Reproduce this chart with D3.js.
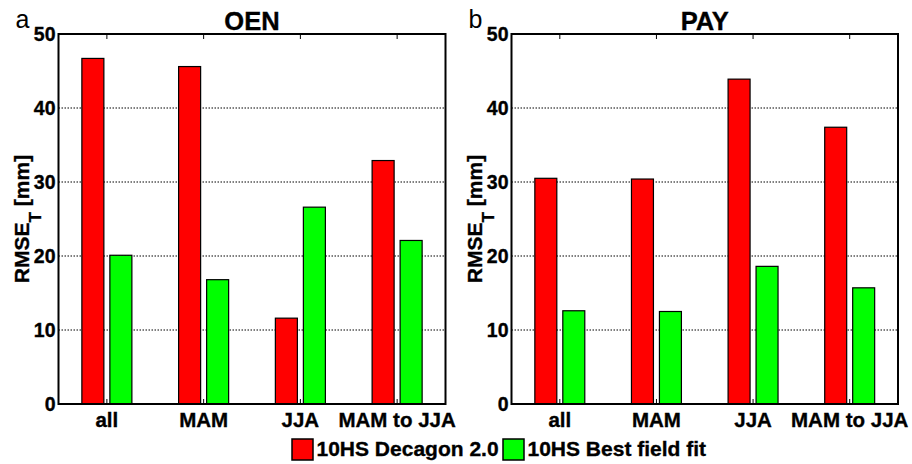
<!DOCTYPE html>
<html>
<head>
<meta charset="utf-8">
<script src="https://cdn.jsdelivr.net/npm/d3@7"></script>
<style>
  html, body { margin: 0; padding: 0; background: #fff; }
  svg { display: block; font-family: "Liberation Sans", Arial, sans-serif; }
  .bold { font-weight: bold; stroke: #000; stroke-width: 0.35px; }
</style>
</head>
<body>
<svg id="chart" width="912" height="464"></svg>
<script>
// categories / series
const categories = ['all', 'MAM', 'JJA', 'MAM to JJA'];
const seriesNames = ['10HS Decagon 2.0', '10HS Best field fit'];
const seriesColors = ['#ff0000', '#00ff00'];

// RMSE_T [mm] per panel
const oenDecagon = [46.7, 45.6, 11.6, 32.9];
const oenBestFit = [20.1, 16.8, 26.6, 22.1];
const payDecagon = [30.5, 30.4, 43.9, 37.4];
const payBestFit = [12.6, 12.5, 18.6, 15.7];

const yTicks = [0, 10, 20, 30, 40, 50];

const panels = [
  { letter: 'a', title: 'OEN', values: [oenDecagon, oenBestFit], left: 58.5, right: 445.5 },
  { letter: 'b', title: 'PAY', values: [payDecagon, payBestFit], left: 511.5, right: 898 }
];

const svg = d3.select('#chart');
const plotTop = 34, plotBottom = 404;

const y = d3.scaleLinear().domain([0, 50]).range([plotBottom, plotTop]);

panels.forEach((p) => {
  const g = svg.append('g');

  const x = d3.scaleBand().domain(categories).range([p.left, p.right]).padding(0);
  const groupW = x.bandwidth() * 0.517;
  const xs = d3.scaleBand().domain(d3.range(seriesNames.length))
    .range([-groupW / 2, groupW / 2]).paddingInner(0.2143).paddingOuter(0);

  // grid lines (dotted)
  g.append('g')
    .selectAll('line')
    .data(yTicks.filter((d) => d > 0 && d < 50))
    .enter()
    .append('line')
    .attr('x1', p.left).attr('x2', p.right)
    .attr('y1', (d) => y(d)).attr('y2', (d) => y(d))
    .attr('stroke', '#000')
    .attr('stroke-width', 1)
    .attr('stroke-dasharray', '1.5,1.5');

  // bars
  categories.forEach((c, ci) => {
    p.values.forEach((vals, si) => {
      g.append('rect')
        .attr('x', x(c) + x.bandwidth() / 2 + xs(si))
        .attr('y', y(vals[ci]))
        .attr('width', xs.bandwidth())
        .attr('height', y(0) - y(vals[ci]))
        .attr('fill', seriesColors[si])
        .attr('stroke', '#000')
        .attr('stroke-width', 1.2);
    });
  });

  // x ticks inside (top and bottom)
  categories.forEach((c) => {
    const cx = x(c) + x.bandwidth() / 2;
    g.append('line').attr('x1', cx).attr('x2', cx).attr('y1', plotTop).attr('y2', plotTop + 5)
      .attr('stroke', '#000').attr('stroke-width', 1);
    g.append('line').attr('x1', cx).attr('x2', cx).attr('y1', plotBottom).attr('y2', plotBottom - 5)
      .attr('stroke', '#000').attr('stroke-width', 1);
  });

  // box
  g.append('rect')
    .attr('x', p.left).attr('y', plotTop)
    .attr('width', p.right - p.left).attr('height', plotBottom - plotTop)
    .attr('fill', 'none').attr('stroke', '#000').attr('stroke-width', 2);

  // y tick labels
  g.append('g')
    .selectAll('text')
    .data(yTicks)
    .enter()
    .append('text')
    .attr('class', 'bold')
    .attr('x', p.left - 3)
    .attr('y', (d) => y(d) + 7)
    .attr('text-anchor', 'end')
    .style('font-size', '19.5px')
    .text((d) => d);

  // x tick labels
  g.append('g')
    .selectAll('text')
    .data(categories)
    .enter()
    .append('text')
    .attr('class', 'bold')
    .attr('x', (d) => x(d) + x.bandwidth() / 2)
    .attr('y', 427)
    .attr('text-anchor', 'middle')
    .style('font-size', '20.5px')
    .text((d) => d);

  // title
  g.append('text')
    .attr('class', 'bold')
    .attr('x', (p.left + p.right) / 2)
    .attr('y', 30)
    .attr('text-anchor', 'middle')
    .style('font-size', '25.5px')
    .text(p.title);

  // panel letter
  g.append('text')
    .attr('x', p.left - 43)
    .attr('y', 28)
    .style('font-size', '25px')
    .text(p.letter);

  // y label (centred by measuring, tspans with shift)
  const yl = g.append('text')
    .attr('class', 'bold')
    .style('font-size', '21px');
  yl.append('tspan').text('RMSE');
  yl.append('tspan').attr('dy', 12).style('font-size', '17px').text('T');
  yl.append('tspan').attr('dy', -12).text(' [mm]');
  const len = yl.node().getComputedTextLength();
  yl.attr('transform', `translate(${p.left - 30},${(plotTop + plotBottom) / 2 + len / 2}) rotate(-90)`);
});

// legend
const legendX = [292, 503];
seriesNames.forEach((name, i) => {
  const lg = svg.append('g');
  lg.append('rect')
    .attr('x', legendX[i]).attr('y', 439)
    .attr('width', 21).attr('height', 21)
    .attr('fill', seriesColors[i])
    .attr('stroke', '#000').attr('stroke-width', 1.5);
  lg.append('text')
    .attr('class', 'bold')
    .attr('x', legendX[i] + 24.5)
    .attr('y', 456)
    .style('font-size', '21px')
    .text(name);
});
</script>
</body>
</html>
